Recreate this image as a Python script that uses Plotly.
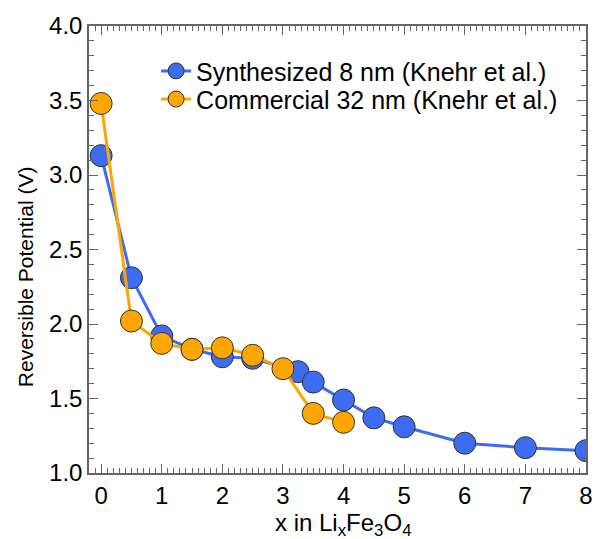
import plotly.graph_objects as go

x_synth = [0, 0.5, 1, 1.5, 2, 2.5, 3.25, 3.5, 4, 4.5, 5, 6, 7, 8]
y_synth = [3.13, 2.31, 1.92, 1.83, 1.78, 1.77, 1.68, 1.61, 1.49, 1.37, 1.31, 1.20, 1.17, 1.15]
x_comm = [0, 0.5, 1, 1.5, 2, 2.5, 3, 3.5, 4]
y_comm = [3.48, 2.02, 1.87, 1.83, 1.84, 1.79, 1.70, 1.40, 1.34]

name_synth = "Synthesized 8 nm (Knehr et al.)"
name_comm = "Commercial 32 nm (Knehr et al.)"
x_title = "x in Li<sub>x</sub>Fe<sub>3</sub>O<sub>4</sub>"
y_title = "Reversible Potential (V)"

blue = "#3d6cf0"
orange = "#ffa500"
font = "Liberation Sans, Arial, Helvetica, sans-serif"

fig = go.Figure()
fig.add_trace(go.Scatter(x=x_synth, y=y_synth, name=name_synth, mode="lines+markers",
                         legend="legend",
                         line=dict(color=blue, width=3),
                         marker=dict(color=blue, size=22, line=dict(color="#333333", width=1))))
fig.add_trace(go.Scatter(x=x_comm, y=y_comm, name=name_comm, mode="lines+markers",
                         legend="legend2",
                         line=dict(color=orange, width=3),
                         marker=dict(color=orange, size=22, line=dict(color="#333333", width=1))))

axis_common = dict(showline=True, linecolor="#666666", linewidth=1.5, mirror="ticks",
                   ticks="inside", tickcolor="#666666", tickwidth=1.2, ticklen=9,
                   showgrid=False, zeroline=False, automargin=False,
                   tickfont=dict(family=font, size=24, color="black"))

legend_common = dict(xanchor="left", yanchor="middle",
                     font=dict(family=font, size=25, color="black"),
                     bgcolor="rgba(0,0,0,0)", itemwidth=30)

fig.update_layout(
    width=595, height=539,
    margin=dict(l=89, r=9, t=26, b=66),
    plot_bgcolor="white", paper_bgcolor="white",
    font=dict(family=font, color="black"),
    showlegend=True,
    legend=dict(x=0.135, y=0.899, **legend_common),
    legend2=dict(x=0.135, y=0.836, **legend_common),
    xaxis=dict(range=[-0.2, 8], dtick=1, tick0=0,
               minor=dict(dtick=0.1, ticks="inside", ticklen=5, tickcolor="#666666", tickwidth=1),
               **axis_common),
    yaxis=dict(range=[1.0, 4.0], dtick=0.5, tickformat=".1f",
               minor=dict(dtick=0.1, ticks="inside", ticklen=5, tickcolor="#666666", tickwidth=1),
               **axis_common),
    annotations=[
        dict(text=y_title, textangle=-90, xref="paper", yref="paper",
             x=-0.129, y=0.44, xanchor="center", yanchor="middle", showarrow=False,
             font=dict(family=font, size=21, color="black")),
        dict(text=x_title, xref="paper", yref="paper",
             x=0.511, y=-0.116, xanchor="center", yanchor="middle", showarrow=False,
             font=dict(family=font, size=24, color="black")),
    ],
)

fig.write_html("out.html")
